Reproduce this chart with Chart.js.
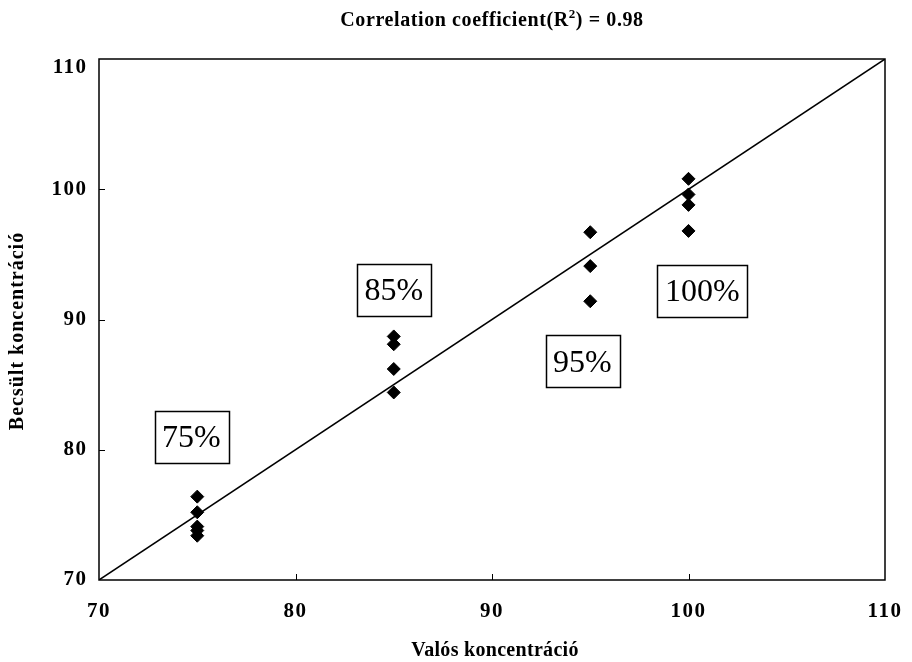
<!DOCTYPE html>
<html>
<head>
<meta charset="utf-8">
<title>Valós vs becsült koncentráció</title>
<script src="https://cdn.jsdelivr.net/npm/chart.js@4/dist/chart.umd.min.js"></script>
<style>
  html, body { margin: 0; padding: 0; background: #fff; }
  #wrap { width: 912px; height: 662px; }
</style>
</head>
<body>
<div id="wrap"><canvas id="c" width="912" height="662"></canvas></div>
<script>
// Measured concentrations, grouped by nominal level
const level75  = [76.4, 75.2, 74.1, 73.8, 73.4];
const level85  = [88.7, 88.1, 86.2, 84.4];
const level95  = [96.7, 94.1, 91.4];
const level100 = [100.8, 99.6, 98.8, 96.8];
const nominal  = [75, 85, 95, 100];

// Identity line (ideal agreement)
const identityX = [70, 110];

// Axis ticks
const tickValues = [70, 80, 90, 100, 110];

// Level tags, anchored in data units
const tagText = ['75%', '85%', '95%', '100%'];
const tagX    = [74.7, 85.0, 94.6, 100.7];
const tagY    = [81.0, 92.3, 86.8, 92.2];

// Texts
const titleMain = ['Correlation coefficient(R', '2', ') = 0.98'];
const xTitle = 'Valós koncentráció';
const yTitle = 'Becsült koncentráció';

const groups = [level75, level85, level95, level100];
const scatterPoints = [];
groups.forEach((vals, i) => vals.forEach(v => scatterPoints.push({ x: nominal[i], y: v })));
const identityPoints = identityX.map(v => ({ x: v, y: v }));

const serif = "'Liberation Serif', 'Times New Roman', serif";

function spaced(ctx, px) {
  if ('letterSpacing' in ctx) ctx.letterSpacing = px + 'px';
}

// Slightly wider glyph spacing for the axis numbers
const spacingPlugin = {
  id: 'tickSpacing',
  beforeDraw(chart) { spaced(chart.ctx, 1.5); },
  afterDraw(chart) { spaced(chart.ctx, 0); }
};

// Frame, inward tick marks, boxed level tags and titles
const framePlugin = {
  id: 'frameAndTags',
  afterDatasetsDraw(chart) {
    const { ctx, chartArea: a, scales: { x, y } } = chart;
    ctx.save();
    spaced(ctx, 0);
    ctx.strokeStyle = '#000';
    ctx.lineWidth = 1.5;
    ctx.strokeRect(a.left, a.top, a.right - a.left, a.bottom - a.top);
    ctx.lineWidth = 1;
    ctx.beginPath();
    tickValues.slice(1, -1).forEach(v => {
      const px = Math.round(x.getPixelForValue(v)) + 0.5;
      ctx.moveTo(px, a.bottom);
      ctx.lineTo(px, a.bottom - 6);
      const py = Math.round(y.getPixelForValue(v)) + 0.5;
      ctx.moveTo(a.left, py);
      ctx.lineTo(a.left + 6, py);
    });
    ctx.stroke();

    ctx.font = '32px ' + serif;
    ctx.textAlign = 'center';
    ctx.textBaseline = 'middle';
    tagText.forEach((t, i) => {
      const cx = x.getPixelForValue(tagX[i]);
      const cy = y.getPixelForValue(tagY[i]);
      const w = ctx.measureText(t).width + 15;
      const h = 52;
      ctx.fillStyle = '#fff';
      ctx.fillRect(cx - w / 2, cy - h / 2, w, h);
      ctx.strokeStyle = '#000';
      ctx.lineWidth = 1.5;
      ctx.strokeRect(Math.round(cx - w / 2) + 0.5, Math.round(cy - h / 2) + 0.5, Math.round(w), h);
      ctx.fillStyle = '#000';
      ctx.fillText(t, cx, cy + 2);
    });
    ctx.restore();
  },
  afterDraw(chart) {
    const { ctx, chartArea: a } = chart;
    const midX = (a.left + a.right) / 2;
    ctx.save();
    ctx.fillStyle = '#000';
    ctx.textBaseline = 'alphabetic';

    // Chart title with a raised exponent
    const big = 'bold 20px ' + serif;
    const small = 'bold 13px ' + serif;
    spaced(ctx, 0.6);
    ctx.font = big;
    const w0 = ctx.measureText(titleMain[0]).width;
    const w2 = ctx.measureText(titleMain[2]).width;
    ctx.font = small;
    const w1 = ctx.measureText(titleMain[1]).width;
    let tx = midX - (w0 + w1 + w2) / 2;
    const base = 26;
    ctx.textAlign = 'left';
    ctx.font = big;
    ctx.fillText(titleMain[0], tx, base);
    tx += w0;
    ctx.font = small;
    ctx.fillText(titleMain[1], tx, base - 8);
    tx += w1;
    ctx.font = big;
    ctx.fillText(titleMain[2], tx, base);

    // Axis titles
    ctx.textAlign = 'center';
    ctx.textBaseline = 'middle';
    spaced(ctx, 0.3);
    ctx.font = 'bold 20px ' + serif;
    ctx.fillText(xTitle, midX + 3, 651);

    spaced(ctx, 1);
    ctx.translate(18, 331);
    ctx.rotate(-Math.PI / 2);
    ctx.fillText(yTitle, 0, 0);
    ctx.restore();
  }
};

new Chart(document.getElementById('c'), {
  type: 'scatter',
  data: {
    datasets: [
      {
        label: 'Becsült',
        data: scatterPoints,
        pointStyle: 'rectRot',
        pointRadius: 6.5,
        pointBackgroundColor: '#000',
        pointBorderColor: '#000',
        pointBorderWidth: 1,
        order: 1
      },
      {
        type: 'line',
        label: 'y = x',
        data: identityPoints,
        borderColor: '#000',
        borderWidth: 1.5,
        pointRadius: 0,
        fill: false,
        order: 2
      }
    ]
  },
  options: {
    responsive: false,
    animation: false,
    layout: { padding: { left: 0, right: 27, top: 59, bottom: 0 } },
    plugins: {
      legend: { display: false },
      tooltip: { enabled: false },
      title: { display: false }
    },
    scales: {
      x: {
        type: 'linear',
        min: 70, max: 110,
        afterBuildTicks(s) { s.ticks = tickValues.map(v => ({ value: v })); },
        afterFit(s) { s.height = 82; s.paddingLeft = 0; s.paddingRight = 0; },
        grid: { display: false, drawTicks: false },
        border: { display: false },
        ticks: {
          color: '#000',
          padding: 19,
          font: { family: serif, size: 21, weight: 'bold' }
        },
        title: { display: false }
      },
      y: {
        type: 'linear',
        min: 70, max: 110,
        afterBuildTicks(s) { s.ticks = tickValues.map(v => ({ value: v })); },
        afterFit(s) { s.width = 99; s.paddingTop = 0; s.paddingBottom = 0; },
        grid: { display: false, drawTicks: false },
        border: { display: false },
        ticks: {
          color: '#000',
          padding: 11.5,
          // the top label sits just below the frame corner
          callback: v => (v === 110 ? ['', String(v)] : String(v)),
          font: ctx => ({
            family: serif, size: 21, weight: 'bold',
            lineHeight: ctx.tick && ctx.tick.value === 110 ? 0.85 : 1.2
          })
        },
        title: { display: false }
      }
    }
  },
  plugins: [spacingPlugin, framePlugin]
});
</script>
</body>
</html>
